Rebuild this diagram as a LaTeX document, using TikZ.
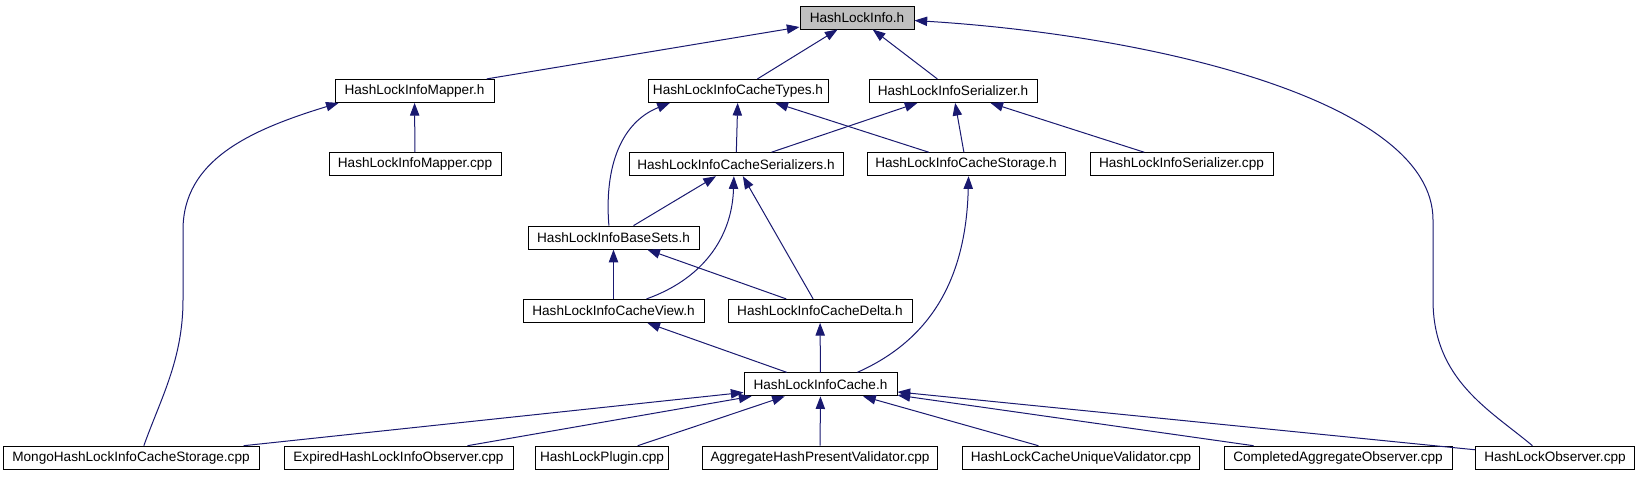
\documentclass[tikz,border=0pt]{standalone}
\usepackage{fontspec}
\setmainfont{Liberation Sans}
\usepackage{tikz}
\usetikzlibrary{arrows.meta}
\definecolor{edgeblue}{HTML}{191970}
\definecolor{rootgray}{HTML}{BFBFBF}
\tikzset{
    myfile/.style={rectangle,draw=black,fill=white,line width=0.75pt,inner sep=0pt,minimum height=17.25pt,font=\fontsize{10.2}{12}\selectfont},
    myroot/.style={myfile,fill=rootgray},
    myw/.style={minimum width=#1*0.75pt},
    mydep/.style={draw=edgeblue,line width=0.75pt,-{Triangle[length=9.5pt,width=7pt]}}
}

\begin{document}
\begin{tikzpicture}[x=0.75pt,y=-0.75pt]
    \useasboundingbox (0,0) rectangle (1640,476);

    % 头文件
    \node[myroot,myw=114] (info) at (857,17.5) {HashLockInfo.h};

    % 第一层
    \node[myfile,myw=159] (mapper) at (414.5,90.9) {HashLockInfoMapper.h};
    \node[myfile,myw=180] (types) at (738,90.9) {HashLockInfoCacheTypes.h};
    \node[myfile,myw=168] (serh) at (953,90.9) {HashLockInfoSerializer.h};

    % 第二层
    \node[myfile,myw=172] (mappercpp) at (415,164.2) {HashLockInfoMapper.cpp};
    \node[myfile,myw=214] (sers) at (736,164.2) {HashLockInfoCacheSerializers.h};
    \node[myfile,myw=198] (storage) at (966,164.2) {HashLockInfoCacheStorage.h};
    \node[myfile,myw=183] (sercpp) at (1181.5,164.2) {HashLockInfoSerializer.cpp};

    % 中间
    \node[myfile,myw=171] (bases) at (613.5,237.6) {HashLockInfoBaseSets.h};
    \node[myfile,myw=181] (view) at (613.5,310.9) {HashLockInfoCacheView.h};
    \node[myfile,myw=184] (delta) at (820,310.9) {HashLockInfoCacheDelta.h};
    \node[myfile,myw=153] (cache) at (820.5,384.3) {HashLockInfoCache.h};

    % 底层 cpp
    \node[myfile,myw=256] (mongo) at (131,457.7) {MongoHashLockInfoCacheStorage.cpp};
    \node[myfile,myw=229] (expired) at (398.5,457.7) {ExpiredHashLockInfoObserver.cpp};
    \node[myfile,myw=133] (plugin) at (602,457.7) {HashLockPlugin.cpp};
    \node[myfile,myw=235] (aggr) at (820,457.7) {AggregateHashPresentValidator.cpp};
    \node[myfile,myw=237] (unique) at (1081,457.7) {HashLockCacheUniqueValidator.cpp};
    \node[myfile,myw=228] (completed) at (1338,457.7) {CompletedAggregateObserver.cpp};
    \node[myfile,myw=159] (obs) at (1555,457.7) {HashLockObserver.cpp};

    % 指向 HashLockInfo.h
    \draw[mydep] (mapper) -- (info);
    \draw[mydep] (types) -- (info);
    \draw[mydep] (serh) -- (info);
    \draw[mydep] (obs.152) .. controls (1490,410) and (1433,380) .. (1433,300)
        -- (1433,220) .. controls (1433,100) and (1150,35) .. (info.-3);

    % 指向 Mapper.h
    \draw[mydep] (mappercpp) -- (mapper);
    \draw[mydep] (mongo.43) .. controls (160,400) and (183,360) .. (183,300)
        -- (183,230) .. controls (183,160) and (250,130) .. (mapper.-171);

    % 指向 CacheTypes.h
    \draw[mydep] (sers) -- (types);
    \draw[mydep] (bases.111) .. controls (604,165) and (622,122) .. (types.-170);
    \draw[mydep] (storage) -- (types);

    % 指向 Serializer.h
    \draw[mydep] (sers) -- (serh);
    \draw[mydep] (storage) -- (serh);
    \draw[mydep] (sercpp) -- (serh);

    % 指向 CacheSerializers.h
    \draw[mydep] (bases) -- (sers);
    \draw[mydep] (view.20) .. controls (700,280) and (732,240) .. (sers.-100);
    \draw[mydep] (delta) -- (sers);

    % 指向 BaseSets.h
    \draw[mydep] (view) -- (bases);
    \draw[mydep] (delta) -- (bases);

    % 指向 View / Delta / Storage
    \draw[mydep] (cache) -- (view);
    \draw[mydep] (cache) -- (delta);
    \draw[mydep] (cache.18) .. controls (930,340) and (966,280) .. (storage.-78);

    % 指向 HashLockInfoCache.h
    \draw[mydep] (mongo) -- (cache);
    \draw[mydep] (expired) -- (cache);
    \draw[mydep] (plugin) -- (cache);
    \draw[mydep] (aggr) -- (cache);
    \draw[mydep] (unique) -- (cache);
    \draw[mydep] (completed) -- (cache);
    \draw[mydep] (obs) -- (cache);
\end{tikzpicture}
\end{document}
